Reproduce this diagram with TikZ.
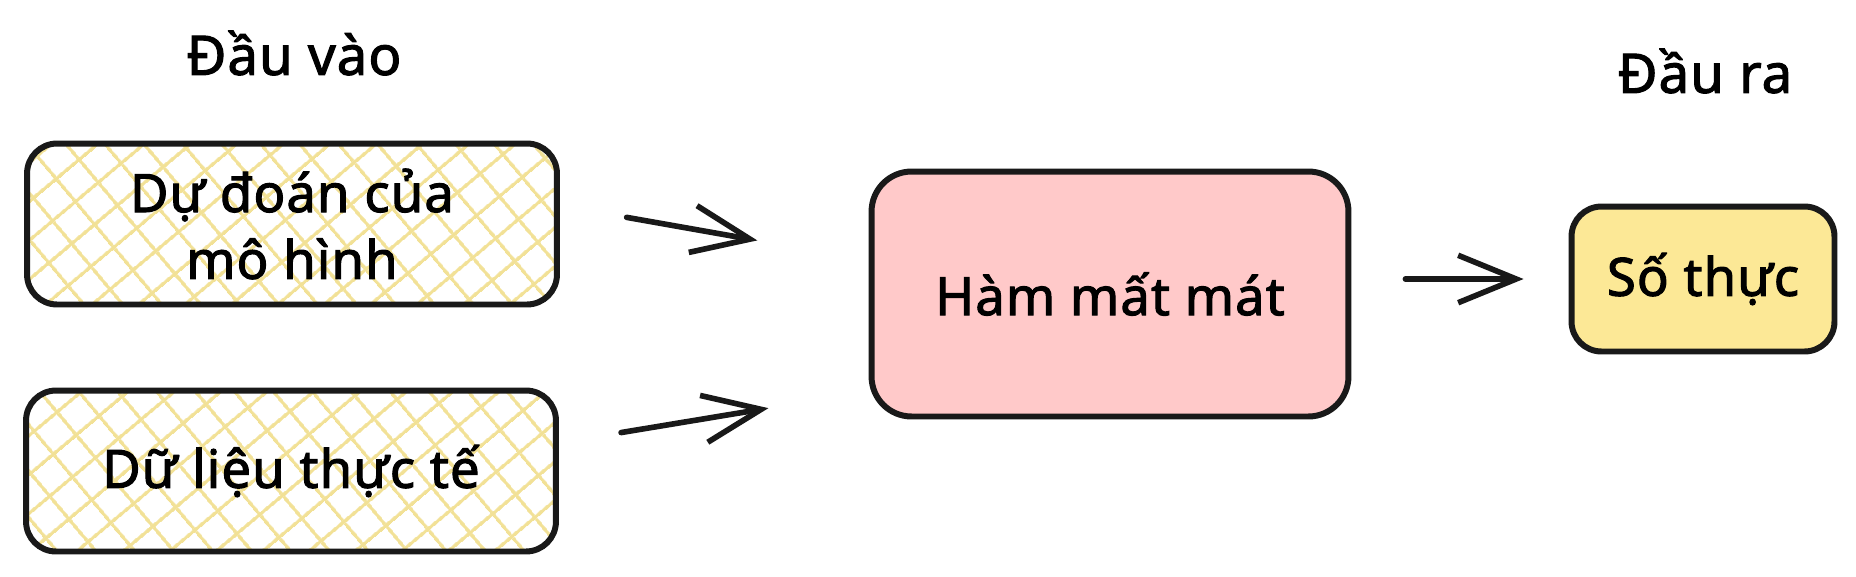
\documentclass[tikz,border=0pt]{standalone}
\usepackage{fontspec}
\setmainfont{Noto Sans}
\newfontfamily\handfont{Noto Sans}[FakeBold=2,LetterSpace=2]
\usetikzlibrary{arrows.meta,patterns.meta}

\definecolor{hatch}{RGB}{242,225,150}
\definecolor{losspink}{RGB}{255,201,201}
\definecolor{numyellow}{RGB}{252,232,150}

\begin{document}
\begin{tikzpicture}[x=0.02cm,y=-0.02cm,
  box/.style={draw=black!90,line width=3.4pt,align=center,inner sep=0pt,font=\handfont\fontsize{30}{38}\selectfont},
  inbox/.style={box,minimum width=10.6cm,minimum height=3.22cm,rounded corners=0.6cm,
    pattern={Lines[angle=40,distance=17pt,line width=2pt]},pattern color=hatch,
    preaction={pattern={Lines[angle=-50,distance=17pt,line width=2pt]},pattern color=hatch}},
  lossbox/.style={box,fill=losspink,minimum width=9.54cm,minimum height=4.9cm,rounded corners=0.8cm},
  numbox/.style={box,fill=numyellow,minimum width=5.26cm,minimum height=2.9cm,rounded corners=0.6cm},
  title/.style={font=\handfont\fontsize{31}{38}\selectfont},
  arr/.style={draw=black!90,line width=3.2pt,line cap=round,line join=round,-{Straight Barb[length=33pt,width=27pt]}}]
\useasboundingbox[fill=white] (0,0) rectangle (1856,576);

\path (294,53) node[title] (inlabel) {Đầu vào};
\path (1705,71) node[title] (outlabel) {Đầu ra};

\path (292,224) node[inbox] (pred) {Dự đoán của\\mô hình};
\path (291,471) node[inbox] (truth) {Dữ liệu thực tế};
\path (1110,294) node[lossbox] (loss) {Hàm mất mát};
\path (1703,279) node[numbox] (num) {Số thực};

\draw[arr,shorten <=1.38cm,shorten >=2.26cm] (pred.4) -- (loss.172.5);
\draw[arr,shorten <=1.26cm,shorten >=2.03cm] (truth.6) -- (loss.202);
\draw[arr,shorten <=1.08cm,shorten >=0.9cm] (loss.east |- num.west) -- (num.west);
\end{tikzpicture}
\end{document}
